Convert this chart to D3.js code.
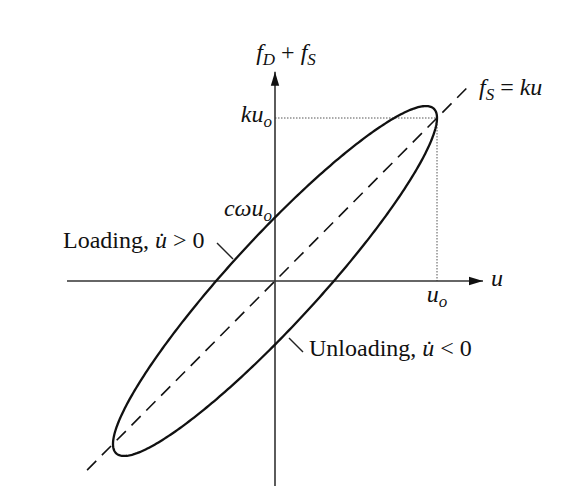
<!DOCTYPE html>
<html>
<head>
<meta charset="utf-8">
<script src="https://cdn.jsdelivr.net/npm/d3@7/dist/d3.min.js"></script>
<style>
  html, body { margin: 0; padding: 0; background: #fff; }
  svg { display: block; }
  text { font-family: "Liberation Serif", "DejaVu Serif", serif; fill: #111; }
</style>
</head>
<body>
<svg id="chart" width="574" height="486"></svg>
<script>
// Hysteresis loop parameters (normalised: u_o = 1, k = 1)
const amplitude = [1];          // u_o
const stiffness = [1];          // k
const dampingForce = [0.39];    // c·ω (force at u = 0 relative to k·u_o)

// Axis extents in normalised units
const uAxisRange = [-1.284, 1.284];
const fAxisRange = [-1.27, 1.283];
const springLineRange = [-1.16, 1.19];

// Axis and marker labels
const markerLabels = { kuo: "ku", cwuo: "cωu", uo: "u" };

const svg = d3.select("#chart");
const uo = amplitude[0], k = stiffness[0], cw = dampingForce[0];

const x = d3.scaleLinear().domain([-1, 1]).range([113, 437]);
const y = d3.scaleLinear().domain([-1, 1]).range([444, 118]);

const FS = 24, SUB = 17;

// Reference lines from axis to the peak point (u_o, k·u_o)
svg.append("line")
  .attr("x1", x(0)).attr("y1", y(k * uo)).attr("x2", x(uo)).attr("y2", y(k * uo))
  .attr("stroke", "#555").attr("stroke-width", 1).attr("stroke-dasharray", "1.5,1.5");
svg.append("line")
  .attr("x1", x(uo)).attr("y1", y(k * uo)).attr("x2", x(uo)).attr("y2", y(0))
  .attr("stroke", "#555").attr("stroke-width", 1).attr("stroke-dasharray", "1.5,1.5");

// Axes
const axisColor = "#333";
svg.append("defs").append("marker")
  .attr("id", "arrow").attr("viewBox", "0 0 10 10").attr("refX", 10).attr("refY", 5)
  .attr("markerWidth", 14).attr("markerHeight", 14).attr("markerUnits", "userSpaceOnUse")
  .attr("orient", "auto")
  .append("path").attr("d", "M0,2 L10,5 L0,8 Z").attr("fill", "#111");

svg.append("line")
  .attr("x1", x(uAxisRange[0])).attr("y1", y(0))
  .attr("x2", x(uAxisRange[1])).attr("y2", y(0))
  .attr("stroke", axisColor).attr("stroke-width", 1.6).attr("marker-end", "url(#arrow)");
svg.append("line")
  .attr("x1", x(0)).attr("y1", y(fAxisRange[0]))
  .attr("x2", x(0)).attr("y2", y(fAxisRange[1]))
  .attr("stroke", axisColor).attr("stroke-width", 1.6).attr("marker-end", "url(#arrow)");

// Spring force line f_S = k u
svg.append("line")
  .attr("x1", x(springLineRange[0])).attr("y1", y(k * springLineRange[0]))
  .attr("x2", x(springLineRange[1])).attr("y2", y(k * springLineRange[1]))
  .attr("stroke", "#111").attr("stroke-width", 1.6).attr("stroke-dasharray", "13,8");

// Elliptical loop: u = u_o sin θ, f = k u_o sin θ + c ω u_o cos θ
const theta = d3.range(0, 2 * Math.PI + 0.001, Math.PI / 180);
const loop = theta.map(t => [uo * Math.sin(t), k * uo * Math.sin(t) + cw * uo * Math.cos(t)]);
svg.append("path")
  .datum(loop)
  .attr("d", d3.line().x(d => x(d[0])).y(d => y(d[1])).curve(d3.curveLinearClosed))
  .attr("fill", "none").attr("stroke", "#111").attr("stroke-width", 2.3);

// Leader ticks for loading / unloading branches
svg.append("line").attr("x1", 217).attr("y1", 243).attr("x2", 233).attr("y2", 259)
  .attr("stroke", "#222").attr("stroke-width", 1.4);
svg.append("line").attr("x1", 289).attr("y1", 338).attr("x2", 303).attr("y2", 352)
  .attr("stroke", "#222").attr("stroke-width", 1.4);

// Labels
function subLabel(tx, ty, main, sub, anchor) {
  const t = svg.append("text").attr("x", tx).attr("y", ty)
    .attr("font-size", FS).attr("font-style", "italic").attr("text-anchor", anchor || "start");
  t.append("tspan").text(main);
  t.append("tspan").attr("font-size", SUB).attr("dy", 5).text(sub);
  return t;
}

// Vertical axis title f_D + f_S
const yt = svg.append("text").attr("x", 286).attr("y", 60).attr("text-anchor", "middle")
  .attr("font-size", FS).attr("font-style", "italic");
yt.append("tspan").text("f");
yt.append("tspan").attr("font-size", SUB).attr("dy", 5).text("D");
yt.append("tspan").attr("dy", -5).attr("font-style", "normal").text(" + ");
yt.append("tspan").text("f");
yt.append("tspan").attr("font-size", SUB).attr("dy", 5).text("S");

// f_S = k u
const st = svg.append("text").attr("x", 479).attr("y", 95)
  .attr("font-size", FS).attr("font-style", "italic");
st.append("tspan").text("f");
st.append("tspan").attr("font-size", SUB).attr("dy", 5).text("S");
st.append("tspan").attr("dy", -5).attr("font-style", "normal").text(" = ");
st.append("tspan").text("ku");

subLabel(x(0) - 3, y(k * uo) + 4, markerLabels.kuo, "o", "end");
subLabel(x(0) - 3, y(cw * uo) - 1, markerLabels.cwuo, "o", "end");
subLabel(x(uo), y(0) + 21, markerLabels.uo, "o", "middle");

svg.append("text").attr("x", 491).attr("y", y(0) + 5)
  .attr("font-size", FS).attr("font-style", "italic").text("u");

function branchLabel(tx, ty, word, sign) {
  const t = svg.append("text").attr("x", tx).attr("y", ty).attr("font-size", FS);
  t.append("tspan").text(word + ", ");
  t.append("tspan").attr("font-style", "italic").text("u\u0307");
  t.append("tspan").text(" " + sign + " 0");
}
branchLabel(63, 248, "Loading", ">");
branchLabel(309, 356, "Unloading", "<");
</script>
</body>
</html>
